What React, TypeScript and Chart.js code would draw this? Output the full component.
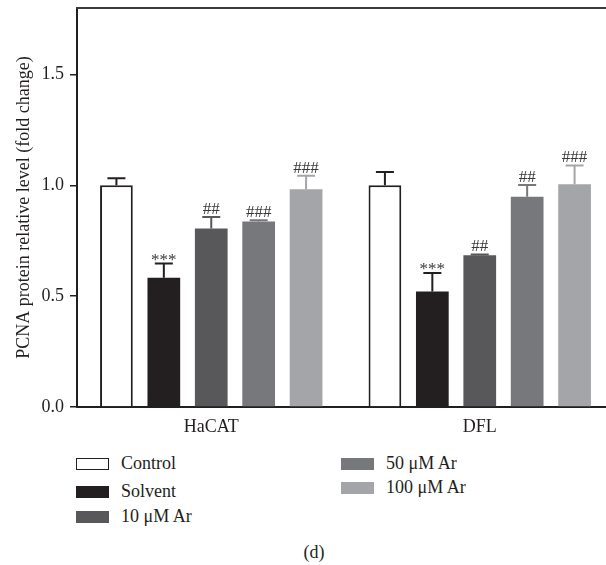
import React, { useEffect, useRef } from "react";
import { Chart, registerables } from "chart.js";

Chart.register(...registerables);

const categories = ["HaCAT", "DFL"];
const seriesNames = ["Control", "Solvent", "10 μM Ar", "50 μM Ar", "100 μM Ar"];
const controlVals = [1.0, 1.0];
const solventVals = [0.583, 0.521];
const ar10Vals = [0.805, 0.685];
const ar50Vals = [0.837, 0.949];
const ar100Vals = [0.982, 1.005];
const controlErr = [0.032, 0.06];
const solventErr = [0.064, 0.084];
const ar10Err = [0.052, 0.003];
const ar50Err = [0.005, 0.053];
const ar100Err = [0.061, 0.085];
const controlMarks = ["", ""];
const solventMarks = ["***", "***"];
const ar10Marks = ["##", "##"];
const ar50Marks = ["###", "##"];
const ar100Marks = ["###", "###"];
const yTicks = [0, 0.5, 1.0, 1.5];

const FONT = "'Liberation Serif', 'Times New Roman', serif";
const INK = "#231f20";
const fills = ["#ffffff", "#231f20", "#58585a", "#77787b", "#a4a5a8"];
const errColors = ["#231f20", "#231f20", "#58585a", "#77787b", "#a4a5a8"];

const values = [controlVals, solventVals, ar10Vals, ar50Vals, ar100Vals];
const errors = [controlErr, solventErr, ar10Err, ar50Err, ar100Err];
const marks = [controlMarks, solventMarks, ar10Marks, ar50Marks, ar100Marks];

const extrasPlugin = {
  id: "extras",
  afterDatasetsDraw(chart: any) {
    const ctx = chart.ctx;
    const ys = chart.scales.y;
    const area = chart.chartArea;
    ctx.save();
    // top frame line
    ctx.strokeStyle = "#3a3a3c";
    ctx.lineWidth = 2;
    ctx.beginPath();
    ctx.moveTo(area.left - 1, area.top);
    ctx.lineTo(area.right, area.top);
    ctx.stroke();
    values.forEach((vals, i) => {
      const meta = chart.getDatasetMeta(i);
      meta.data.forEach((bar: any, j: number) => {
        const top = ys.getPixelForValue(vals[j] + errors[i][j]);
        ctx.strokeStyle = errColors[i];
        ctx.lineWidth = 2;
        ctx.beginPath();
        ctx.moveTo(bar.x, bar.y);
        ctx.lineTo(bar.x, top);
        ctx.moveTo(bar.x - 9, top);
        ctx.lineTo(bar.x + 9, top);
        ctx.stroke();
        const m = marks[i][j];
        if (m) {
          ctx.fillStyle = "#3a3a3c";
          ctx.font = `17px ${FONT}`;
          ctx.textAlign = "center";
          ctx.textBaseline = "alphabetic";
          const off = m.startsWith("*") ? 1 : -3;
          ctx.fillText(m, bar.x, top + off);
        }
      });
    });
    ctx.restore();
  },
};

export default function App() {
  const ref = useRef<HTMLCanvasElement | null>(null);
  useEffect(() => {
    if (!ref.current) return;
    const chart = new Chart(ref.current, {
      type: "bar",
      data: {
        labels: categories,
        datasets: seriesNames.map((name, i) => ({
          label: name,
          data: values[i],
          backgroundColor: fills[i],
          borderColor: i === 0 ? INK : fills[i],
          borderWidth: i === 0 ? 2 : 0,
          categoryPercentage: 0.883,
          barPercentage: 0.69,
        })),
      },
      options: {
        responsive: false,
        animation: false,
        devicePixelRatio: 1,
        layout: { padding: { top: 8, left: 0, right: 0, bottom: 0 } },
        plugins: { legend: { display: false }, tooltip: { enabled: false } },
        scales: {
          x: {
            grid: { display: false, drawTicks: false },
            border: { display: true, color: INK, width: 2 },
            ticks: { color: INK, font: { family: FONT, size: 18 }, padding: 9 },
            afterFit: (s: any) => {
              s.height = 33;
            },
          },
          y: {
            min: 0,
            max: 1.8,
            afterBuildTicks: (s: any) => {
              s.ticks = yTicks.map((v) => ({ value: v }));
            },
            ticks: {
              color: INK,
              font: { family: FONT, size: 18 },
              padding: 6,
              callback: (v: any) => Number(v).toFixed(1),
            },
            grid: {
              display: true,
              drawOnChartArea: false,
              drawTicks: true,
              tickLength: 7,
              color: INK,
              lineWidth: 1.5,
            },
            border: { display: true, color: INK, width: 2 },
            title: {
              display: true,
              text: "PCNA protein relative level (fold change)",
              color: INK,
              font: { family: FONT, size: 18 },
              padding: { top: 13, bottom: 0 },
            },
            afterFit: (s: any) => {
              s.width = 77;
              s.paddingTop = 0;
              s.paddingBottom = 0;
            },
          },
        },
      },
      plugins: [extrasPlugin],
    });
    return () => chart.destroy();
  }, []);

  const legendItems = [
    { i: 0, x: 76, tx: 121, y: 464 },
    { i: 1, x: 76, tx: 121, y: 492 },
    { i: 2, x: 76, tx: 121, y: 517 },
    { i: 3, x: 341, tx: 386, y: 464 },
    { i: 4, x: 341, tx: 386, y: 488 },
  ];

  return (
    <div
      style={{
        position: "fixed",
        left: 0,
        top: 0,
        width: 606,
        height: 565,
        overflow: "hidden",
        background: "#fff",
        fontFamily: FONT,
        color: INK,
      }}
    >
      <canvas
        ref={ref}
        width={614}
        height={440}
        style={{ position: "absolute", left: 0, top: 0, width: 614, height: 440 }}
      />
      {legendItems.map((it) => (
        <React.Fragment key={it.i}>
          <div
            style={{
              position: "absolute",
              left: it.x,
              top: it.y - 6,
              width: 33,
              height: 12,
              boxSizing: "border-box",
              background: fills[it.i],
              border: it.i === 0 ? `1.5px solid ${INK}` : "none",
            }}
          />
          <div
            style={{
              position: "absolute",
              left: it.tx,
              top: it.y - 12,
              height: 22,
              lineHeight: "22px",
              fontSize: 18,
              whiteSpace: "nowrap",
            }}
          >
            {seriesNames[it.i]}
          </div>
        </React.Fragment>
      ))}
      <div
        style={{
          position: "absolute",
          left: 264,
          width: 100,
          top: 541,
          lineHeight: "22px",
          fontSize: 18,
          textAlign: "center",
        }}
      >
        (d)
      </div>
    </div>
  );
}
